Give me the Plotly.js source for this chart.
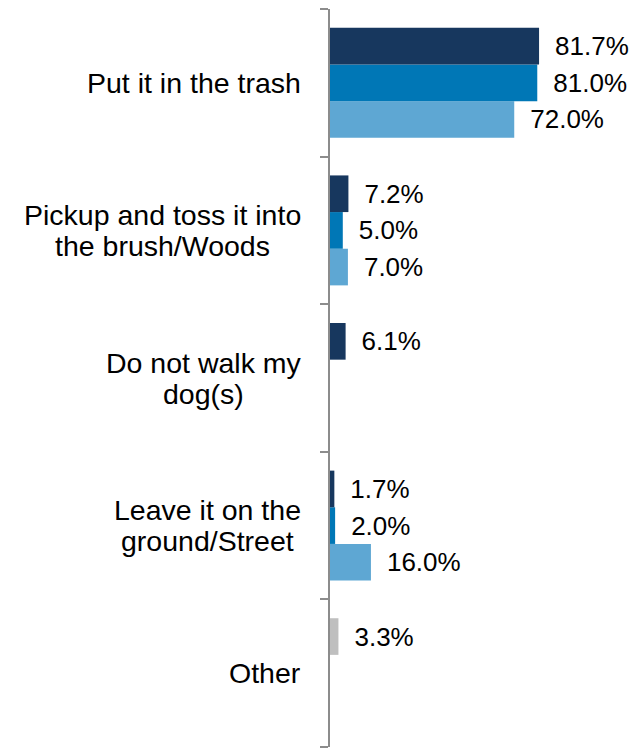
<!DOCTYPE html>
<html>
<head>
<meta charset="utf-8">
<script src="https://cdn.plot.ly/plotly-3.0.1.min.js"></script>
<style>html,body{margin:0;padding:0;background:#fff;}#chart{width:634px;height:750px;}</style>
</head>
<body>
<div id="chart"></div>
<script>
const categories = [
  "Put it in the trash",
  "Pickup and toss it into<br>the brush/Woods",
  "Do not walk my<br>dog(s)",
  "Leave it on the<br>ground/Street",
  "Other"
];
const series1 = [81.7, 7.2, 6.1, 1.7, 3.3];
const series2 = [81.0, 5.0, null, 2.0, null];
const series3 = [72.0, 7.0, null, 16.0, null];

const DARK = "#17375e", MID = "#0077b6", LIGHT = "#5ea7d3", GREY = "#bfbfbf";
const series1Colors = [DARK, DARK, DARK, DARK, GREY];

const FAMILY = "Liberation Sans, Arial, sans-serif";
const labelFont = {family: FAMILY, size: 26, color: "#000"};
const catFont = {family: FAMILY, size: 28.5, color: "#000"};

function mk(vals, color) {
  return {
    type: "bar", orientation: "h", y: categories, x: vals,
    marker: {color: color, line: {width: 0}},
    text: vals.map(v => v == null ? "" : "\u2002" + v.toFixed(1) + "%"),
    texttemplate: "%{text}",
    textposition: "outside", constraintext: "none", cliponaxis: false,
    textfont: labelFont, hoverinfo: "none", showlegend: false
  };
}
// y increases upward: add traces bottom-first so series1 sits on top of each group
const data = [mk(series3, LIGHT), mk(series2, MID), mk(series1, series1Colors)];

// centered multi-line category labels with tight line spacing
const ctx = document.createElement("canvas").getContext("2d");
ctx.font = catFont.size + "px 'Liberation Sans', Arial, sans-serif";
const LINE = 31, GAP = 29;
const annotations = [];
categories.forEach(cat => {
  const lines = cat.split("<br>");
  const maxW = Math.max(...lines.map(l => ctx.measureText(l).width));
  lines.forEach((ln, i) => {
    annotations.push({
      xref: "paper", yref: "y", x: 0, y: cat,
      xanchor: "center", yanchor: "middle",
      xshift: -(GAP + maxW / 2),
      yshift: ((lines.length - 1) / 2 - i) * LINE,
      text: ln, showarrow: false, font: catFont, align: "center"
    });
  });
});

const layout = {
  width: 634, height: 750,
  margin: {l: 330, r: 0, t: 9, b: 3, pad: 0},
  paper_bgcolor: "#fff", plot_bgcolor: "#fff",
  barmode: "group", bargap: 0.255, bargroupgap: 0,
  xaxis: {range: [0, 118.8], visible: false, fixedrange: true},
  yaxis: {
    type: "category", categoryorder: "array", categoryarray: categories.slice().reverse(),
    range: [-0.5, categories.length - 0.5],
    showline: true, linecolor: "#8c8c8c", linewidth: 2,
    ticks: "outside", tickson: "boundaries", ticklen: 8, tickwidth: 2, tickcolor: "#8c8c8c",
    showticklabels: false, showgrid: false, zeroline: false
  },
  annotations: annotations,
  font: {family: FAMILY}
};
Plotly.newPlot("chart", data, layout, {displayModeBar: false, staticPlot: true});
</script>
</body>
</html>
